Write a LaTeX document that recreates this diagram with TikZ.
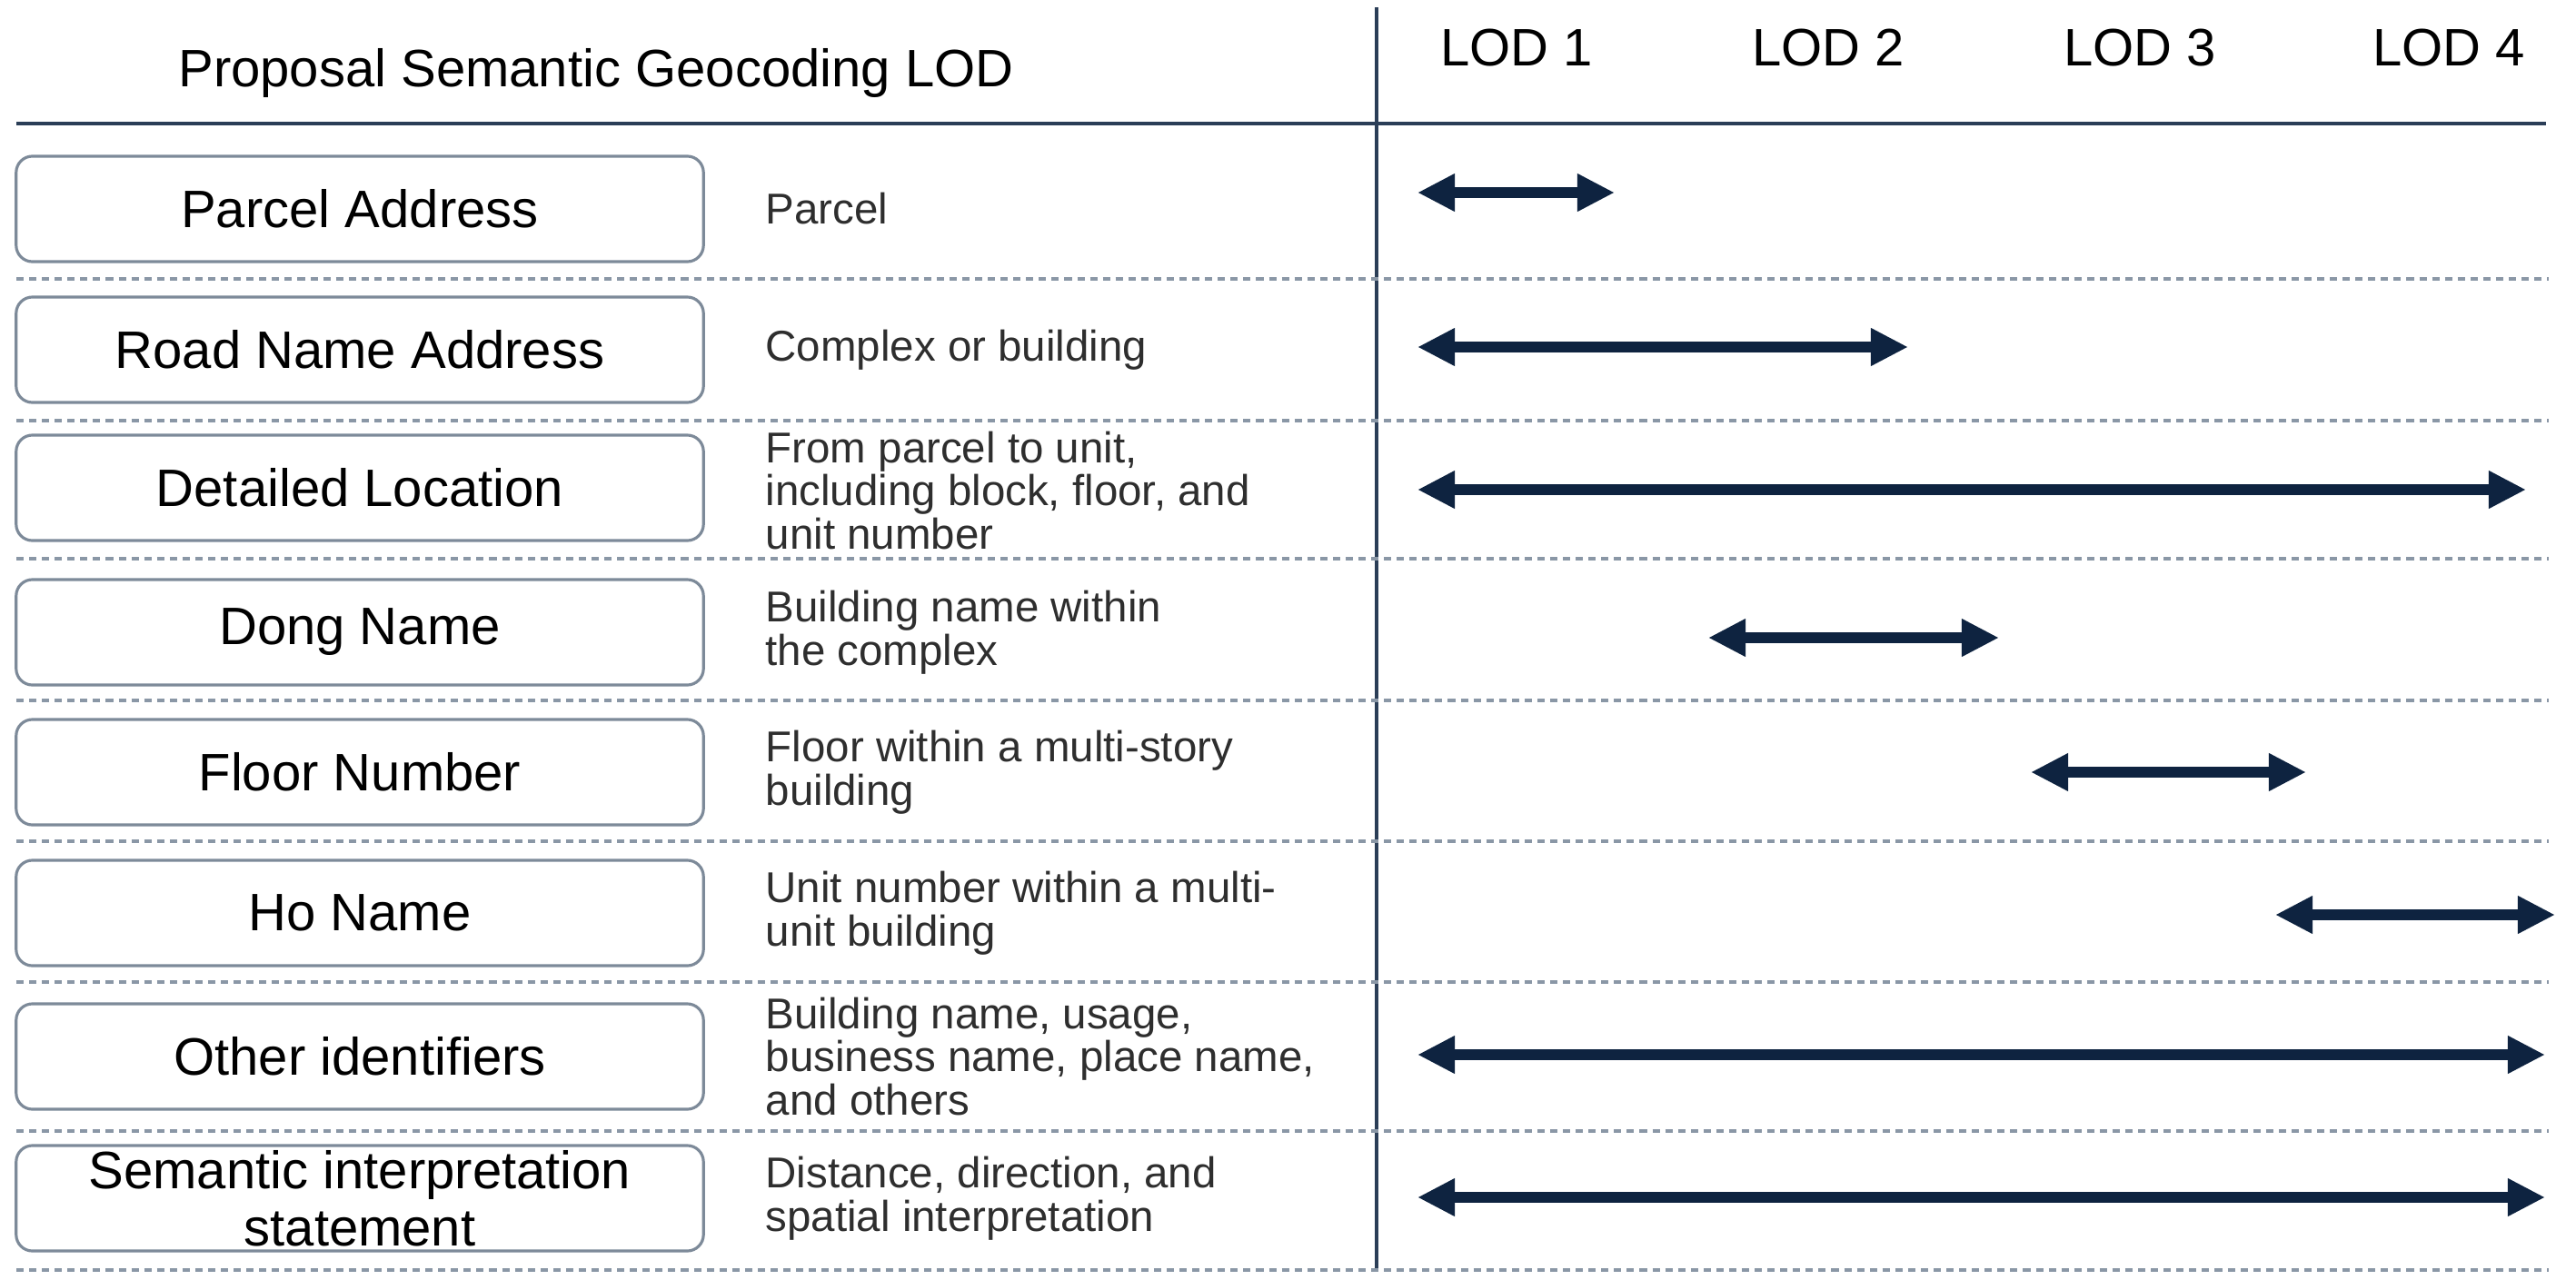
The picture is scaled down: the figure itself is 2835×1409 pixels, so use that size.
\documentclass[tikz,border=0pt]{standalone}
\usepackage{fontspec}
\setmainfont{Liberation Sans}
\usetikzlibrary{arrows.meta}

\definecolor{navy}{HTML}{0E2340}
\definecolor{rulecol}{HTML}{2B3E57}
\definecolor{boxcol}{HTML}{7D8A99}
\definecolor{dotcol}{HTML}{8A97A6}

\begin{document}
\begin{tikzpicture}[x=0.01cm,y=-0.01cm,
  namebox/.style={draw=boxcol,line width=0.9pt,rounded corners=5.1pt,minimum width=7.56cm,minimum height=1.16cm,inner sep=0pt,align=center,font=\fontsize{16.5}{18}\selectfont},
  desc/.style={anchor=west,align=left,inner sep=0pt,text=black!82,font=\fontsize{13.5}{13.6}\selectfont},
  lod/.style={anchor=base,inner sep=0pt,font=\fontsize{16.5}{18}\selectfont},
  lodarrow/.style={navy,line width=3.4pt,{Triangle[length=11.7pt,width=11.1pt]}-{Triangle[length=11.7pt,width=11.1pt]}},
  rowline/.style={dotcol,line width=1pt,dash pattern=on 2.3pt off 1.7pt}]

\useasboundingbox (0,0) rectangle (2835,1409);

%Kopf
\node[lod] (title) at (656,95) {Proposal Semantic Geocoding LOD};
\node[lod] (lod1) at (1669,73) {LOD 1};
\node[lod] (lod2) at (2012,73) {LOD 2};
\node[lod] (lod3) at (2355,73) {LOD 3};
\node[lod] (lod4) at (2695,73) {LOD 4};

\draw[rulecol,line width=1.3pt] (18,136) -- (2802,136);
\draw[rulecol,line width=1.1pt] (1515,8) -- (1515,1396);

\draw[rowline] (18,307) -- (2805,307);
\draw[rowline] (18,463) -- (2805,463);
\draw[rowline] (18,615) -- (2805,615);
\draw[rowline] (18,771) -- (2805,771);
\draw[rowline] (18,926) -- (2805,926);
\draw[rowline] (18,1081) -- (2805,1081);
\draw[rowline] (18,1245) -- (2805,1245);
\draw[rowline] (18,1398) -- (2805,1398);

%Zeilen
\node[namebox] (parcel) at (396,230) {Parcel Address};
\node[namebox] (road) at (396,385) {Road Name Address};
\node[namebox] (detail) at (396,537) {Detailed Location};
\node[namebox] (dong) at (396,696) {Dong Name};
\node[namebox] (floor) at (396,850) {Floor Number};
\node[namebox] (ho) at (396,1005) {Ho Name};
\node[namebox] (other) at (396,1163) {Other identifiers};
\node[namebox] (sem) at (396,1319) {Semantic interpretation\\statement};

\node[desc] (dparcel) at (842,230) {Parcel};
\node[desc] (droad) at (842,385) {Complex or building};
\node[desc] (ddetail) at (842,540) {From parcel to unit,\\including block, floor, and\\unit number};
\node[desc] (ddong) at (842,696) {Building name within\\the complex};
\node[desc] (dfloor) at (842,850) {Floor within a multi-story\\building};
\node[desc] (dho) at (842,1005) {Unit number within a multi-\\unit building};
\node[desc] (dother) at (842,1163) {Building name, usage,\\business name, place name,\\and others};
\node[desc] (dsem) at (842,1319) {Distance, direction, and\\spatial interpretation};

%Pfeile
\coordinate (p1a) at (1560,212); \coordinate (p1b) at (1777,212);
\coordinate (p2a) at (1560,382); \coordinate (p2b) at (2100,382);
\coordinate (p3a) at (1560,539); \coordinate (p3b) at (2780,539);
\coordinate (p4a) at (1880,702); \coordinate (p4b) at (2200,702);
\coordinate (p5a) at (2235,850); \coordinate (p5b) at (2538,850);
\coordinate (p6a) at (2504,1007); \coordinate (p6b) at (2812,1007);
\coordinate (p7a) at (1560,1161); \coordinate (p7b) at (2801,1161);
\coordinate (p8a) at (1560,1318); \coordinate (p8b) at (2801,1318);

\draw[lodarrow] (p1a) -- (p1b);
\draw[lodarrow] (p2a) -- (p2b);
\draw[lodarrow] (p3a) -- (p3b);
\draw[lodarrow] (p4a) -- (p4b);
\draw[lodarrow] (p5a) -- (p5b);
\draw[lodarrow] (p6a) -- (p6b);
\draw[lodarrow] (p7a) -- (p7b);
\draw[lodarrow] (p8a) -- (p8b);

\end{tikzpicture}
\end{document}
